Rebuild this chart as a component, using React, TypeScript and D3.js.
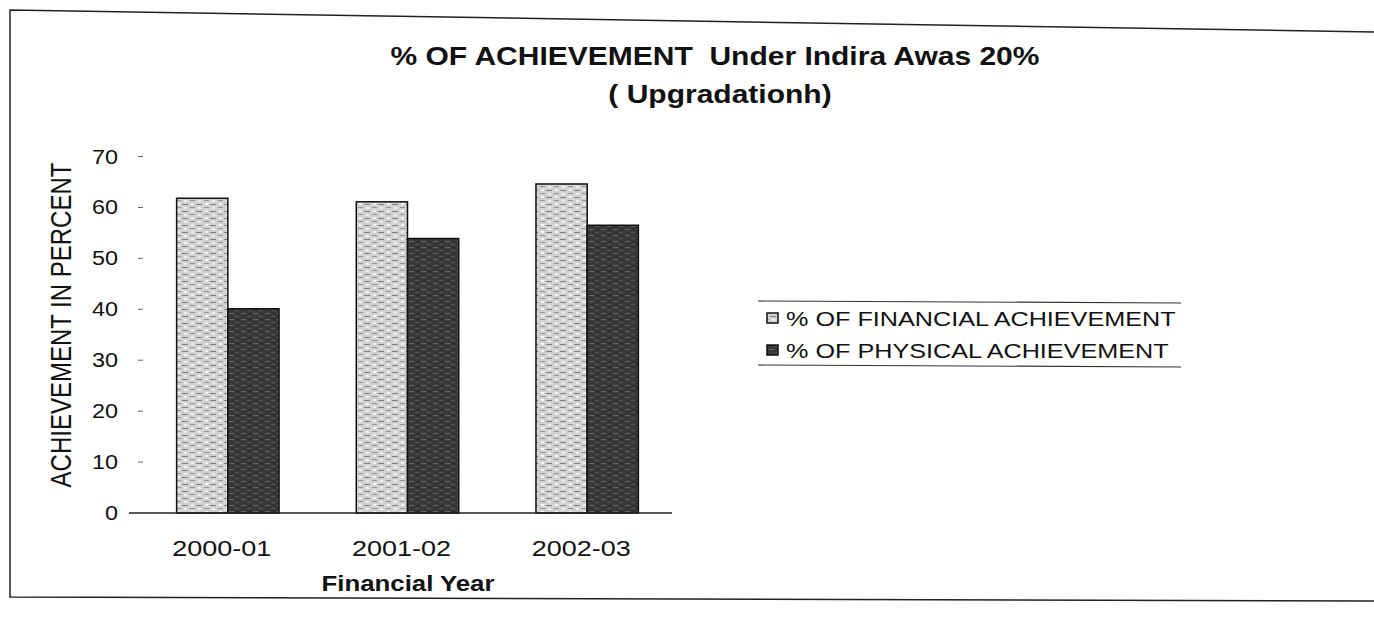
import React from "react";
import * as d3 from "d3";

const categories = ["2000-01", "2001-02", "2002-03"];
const seriesNames = ["% OF FINANCIAL ACHIEVEMENT", "% OF PHYSICAL ACHIEVEMENT"];
const financialValues = [61.8, 61.1, 64.6];
const physicalValues = [40.1, 53.9, 56.5];
const yTicks = [0, 10, 20, 30, 40, 50, 60, 70];
const titleLine1 = "% OF ACHIEVEMENT  Under Indira Awas 20%";
const titleLine2 = "( Upgradationh)";
const yAxisTitle = "ACHIEVEMENT IN PERCENT";
const xAxisTitle = "Financial Year";

const W = 1374;
const H = 629;
const FONT = "'Liberation Sans', Arial, Helvetica, sans-serif";
const SX = 1.2; // horizontal stretch of the scanned page

function T(props: {
  x: number;
  y: number;
  size: number;
  anchor?: string;
  bold?: boolean;
  dy?: string;
  children: React.ReactNode;
}) {
  const { x, y, size, anchor = "start", bold = false, dy, children } = props;
  return (
    <text
      transform={`translate(${x},${y}) scale(${SX},1)`}
      textAnchor={anchor}
      fontSize={size}
      fontWeight={bold ? "bold" : "normal"}
      dy={dy}
      fill="#111"
      style={{ whiteSpace: "pre" }}
    >
      {children}
    </text>
  );
}

export default function App() {
  const x = d3.scaleBand<string>().domain(categories).range([138, 677]).paddingInner(0.43).paddingOuter(0.215);
  const sub = d3.scaleBand<string>().domain(["fin", "phys"]).range([0, x.bandwidth()]).padding(0);
  const y = d3.scaleLinear().domain([0, 70]).range([513, 156.5]);

  const series = [
    { key: "fin", values: financialValues, fill: "url(#finPat)" },
    { key: "phys", values: physicalValues, fill: "url(#physPat)" },
  ];

  const axisX0 = 129;
  const axisX1 = 672;

  return (
    <svg
      width={W}
      height={H}
      style={{ position: "absolute", left: 0, top: 0, background: "#fff" }}
      fontFamily={FONT}
    >
      <defs>
        <pattern id="finPat" width="14" height="7" patternUnits="userSpaceOnUse">
          <rect width="14" height="7" fill="#d2d2d2" />
          <line x1="0" y1="1.5" x2="6" y2="1.5" stroke="#808080" strokeWidth="1" />
          <line x1="8" y1="4.5" x2="13" y2="4.5" stroke="#959595" strokeWidth="1" />
          <rect x="9" y="0" width="3" height="2" fill="#f2f2f2" />
          <rect x="2" y="4" width="3" height="2" fill="#f0f0f0" />
        </pattern>
        <pattern id="physPat" width="12" height="6" patternUnits="userSpaceOnUse">
          <rect width="12" height="6" fill="#383838" />
          <line x1="1" y1="1.5" x2="6" y2="1.5" stroke="#666" strokeWidth="1" />
          <line x1="7" y1="4.5" x2="11" y2="4.5" stroke="#5a5a5a" strokeWidth="1" />
          <rect x="9" y="1" width="2" height="1" fill="#222" />
        </pattern>
      </defs>

      {/* outer frame (scanned page, slightly skewed) */}
      <path d={`M1374,32 L10,10 L10,597 L1374,601`} fill="none" stroke="#222" strokeWidth={1.5} />

      {/* title */}
      <T x={715} y={65} size={25} anchor="middle" bold>
        {titleLine1}
      </T>
      <T x={720} y={103} size={25} anchor="middle" bold>
        {titleLine2}
      </T>

      {/* y axis ticks and labels */}
      {yTicks.map((t) => (
        <g key={t}>
          <T x={118} y={y(t)} size={19.5} anchor="end" dy="0.36em">
            {t}
          </T>
          {t > 0 && <line x1={138} x2={143} y1={y(t)} y2={y(t)} stroke="#666" strokeWidth={1} />}
        </g>
      ))}

      {/* y axis title */}
      <text
        transform={`translate(61,325) scale(${SX},1) rotate(-90)`}
        textAnchor="middle"
        dy="0.36em"
        fontSize={24}
        fill="#111"
      >
        {yAxisTitle}
      </text>

      {/* bars */}
      {series.map((s) =>
        categories.map((c, i) => (
          <rect
            key={s.key + c}
            x={(x(c) as number) + (sub(s.key) as number)}
            y={y(s.values[i])}
            width={sub.bandwidth()}
            height={y(0) - y(s.values[i])}
            fill={s.fill}
            stroke="#111"
            strokeWidth={1.5}
          />
        ))
      )}

      {/* x axis line */}
      <line x1={axisX0} x2={axisX1} y1={y(0)} y2={y(0)} stroke="#222" strokeWidth={1.5} />

      {/* x labels */}
      {categories.map((c) => (
        <T key={c} x={(x(c) as number) + x.bandwidth() / 2 - 6} y={556} size={22.5} anchor="middle">
          {c}
        </T>
      ))}

      <T x={408} y={591} size={21.5} anchor="middle" bold>
        {xAxisTitle}
      </T>

      {/* legend */}
      <g>
        <line x1={758} x2={1181} y1={301} y2={303} stroke="#333" strokeWidth={1.2} />
        <line x1={758} x2={1181} y1={365} y2={367} stroke="#333" strokeWidth={1.2} />
        {seriesNames.map((n, i) => (
          <g key={n}>
            <rect
              x={767}
              y={313 + i * 32}
              width={11}
              height={10}
              fill={series[i].fill}
              stroke="#111"
              strokeWidth={1.5}
            />
            <T x={786} y={318 + i * 32} size={21} dy="0.36em">
              {n}
            </T>
          </g>
        ))}
      </g>
    </svg>
  );
}
